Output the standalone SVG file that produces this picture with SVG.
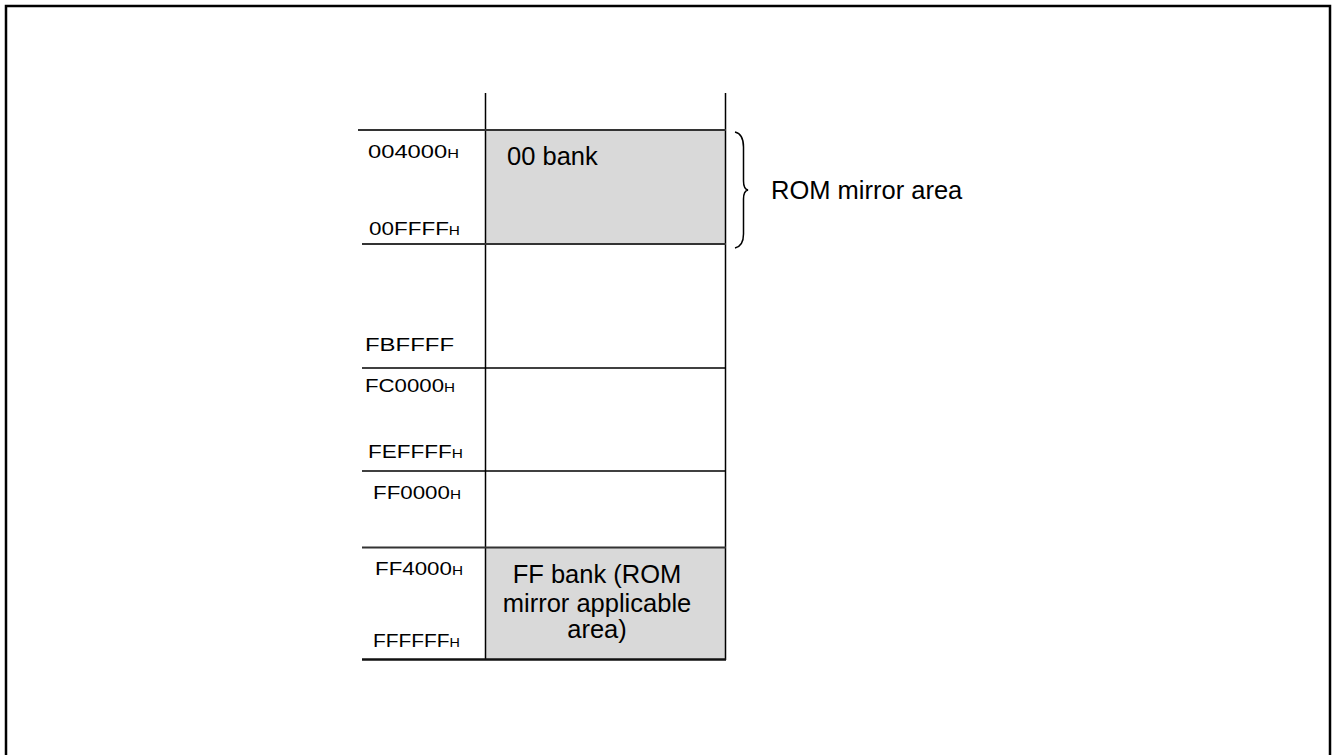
<svg xmlns="http://www.w3.org/2000/svg" width="1336" height="755" viewBox="0 0 1336 755">
<style>
.frame{fill:none;stroke:#000;stroke-width:2.5}
.ln{stroke:#000;stroke-width:1.5;fill:none}
.hl{stroke:#333;stroke-width:1.8;fill:none}
.fill{fill:#d9d9d9;stroke:none}
.addr{font-family:"Liberation Sans",Arial,sans-serif;font-size:17.5px;fill:#000}
.sub{font-size:12px}
.lbl{font-family:"Liberation Sans",Arial,sans-serif;font-size:25.5px;fill:#000}
</style>
<rect width="1336" height="755" fill="#fff"/>
<path class="frame" d="M6,760 L6,6 L1330,6 L1330,760"/>
<g id="bank00">
<rect class="fill" x="485.5" y="130" width="240" height="114"/>
<text class="lbl" x="507" y="165">00 bank</text>
</g>
<g id="bankFF">
<rect class="fill" x="485.5" y="547.5" width="240" height="112"/>
<text class="lbl" text-anchor="middle" x="597" y="583">FF bank (ROM</text>
<text class="lbl" text-anchor="middle" x="597" y="612">mirror applicable</text>
<text class="lbl" text-anchor="middle" x="597" y="638">area)</text>
</g>
<g id="connectors">
<line class="ln" x1="485.5" y1="93" x2="485.5" y2="660"/>
<line class="ln" x1="725.5" y1="93" x2="725.5" y2="660"/>
<line class="hl" x1="358" y1="130" x2="726" y2="130"/>
<line class="hl" x1="362" y1="244" x2="726" y2="244"/>
<line class="ln" x1="362" y1="368" x2="726" y2="368"/>
<line class="ln" x1="362" y1="471" x2="726" y2="471"/>
<line class="hl" x1="362" y1="547.5" x2="726" y2="547.5"/>
<line x1="362" y1="659.5" x2="726" y2="659.5" stroke="#111" stroke-width="2.5"/>
<path class="ln" d="M735,132 Q743.5,134 743.5,147 L743.5,181 Q743.5,189 748,190 Q743.5,191 743.5,199 L743.5,234 Q743.5,246 735,248"/>
</g>
<g id="labels">
<text class="addr" x="368" y="158" textLength="91" lengthAdjust="spacingAndGlyphs">004000<tspan class="sub">H</tspan></text>
<text class="addr" x="369" y="235" textLength="91" lengthAdjust="spacingAndGlyphs">00FFFF<tspan class="sub">H</tspan></text>
<text class="addr" x="365" y="351" textLength="89" lengthAdjust="spacingAndGlyphs">FBFFFF</text>
<text class="addr" x="365" y="392" textLength="90" lengthAdjust="spacingAndGlyphs">FC0000<tspan class="sub">H</tspan></text>
<text class="addr" x="368" y="458" textLength="95" lengthAdjust="spacingAndGlyphs">FEFFFF<tspan class="sub">H</tspan></text>
<text class="addr" x="373" y="499" textLength="88" lengthAdjust="spacingAndGlyphs">FF0000<tspan class="sub">H</tspan></text>
<text class="addr" x="375" y="575" textLength="88" lengthAdjust="spacingAndGlyphs">FF4000<tspan class="sub">H</tspan></text>
<text class="addr" x="373" y="647" textLength="87" lengthAdjust="spacingAndGlyphs">FFFFFF<tspan class="sub">H</tspan></text>
<text class="lbl" x="771" y="199">ROM mirror area</text>
</g>
</svg>
